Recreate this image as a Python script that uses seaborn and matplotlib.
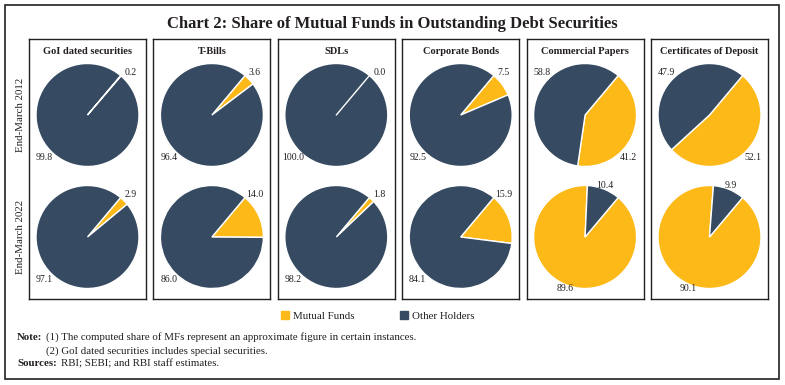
import numpy as np
import matplotlib
matplotlib.use("Agg")
import matplotlib.pyplot as plt
import matplotlib.patches as mpatches
import seaborn as sns

# ---------------- data ----------------
categories = ["GoI dated securities", "T-Bills", "SDLs", "Corporate Bonds",
              "Commercial Papers", "Certificates of Deposit"]
periods = ["End-March 2012", "End-March 2022"]
mf_2012 = [0.2, 3.6, 0.0, 7.5, 41.2, 52.1]
other_2012 = [99.8, 96.4, 100.0, 92.5, 58.8, 47.9]
mf_2022 = [2.9, 14.0, 1.8, 15.9, 89.6, 90.1]
other_2022 = [97.1, 86.0, 98.2, 84.1, 10.4, 9.9]
series_names = ["Mutual Funds", "Other Holders"]

sns.set_theme(style="white")
plt.rcParams['font.family'] = ['Liberation Serif', 'DejaVu Serif']

MF_COL = "#fcb918"
OTH_COL = "#364a61"
INK = "#231f20"

W, H = 785, 385
fig = plt.figure(figsize=(W / 100, H / 100), dpi=100)


def fx(px):
    return px / W


def fy(py):
    return 1 - py / H


# outer frame
fig.patches.append(mpatches.Rectangle((fx(5), fy(379)), fx(774), 374 / H,
                                      transform=fig.transFigure, fill=False,
                                      edgecolor=INK, linewidth=1.2))

fig.text(fx(392), fy(24), "Chart 2: Share of Mutual Funds in Outstanding Debt Securities",
         ha="center", va="center", fontsize=12, fontweight="bold", color=INK)

box_left0, box_step, box_w = 29, 124.4, 117
box_top, box_bot = 39, 299
row_cy = [115, 237]
R = 51.5
half = 1.3 * R

rows = [(mf_2012, other_2012), (mf_2022, other_2022)]

for i, cat in enumerate(categories):
    left = box_left0 + i * box_step
    cx = left + box_w / 2
    bax = fig.add_axes([fx(left), fy(box_bot), fx(box_w), (box_bot - box_top) / H])
    bax.set_xticks([])
    bax.set_yticks([])
    bax.patch.set_alpha(0)
    for sp in bax.spines.values():
        sp.set_visible(True)
        sp.set_color(INK)
        sp.set_linewidth(1.0)
    fig.text(fx(cx), fy(51), cat, ha="center", va="center", fontsize=7.5,
             fontweight="bold", color=INK)

    for r, (mf, oth) in enumerate(rows):
        cy = row_cy[r]
        ax = fig.add_axes([fx(cx - half), fy(cy + half), fx(2 * half), 2 * half / H])
        vals = [mf[i], oth[i]]
        wedges, _ = ax.pie(vals, colors=[MF_COL, OTH_COL], startangle=50,
                           counterclock=False, radius=1.0,
                           wedgeprops=dict(edgecolor="white", linewidth=1.0))
        ax.set_xlim(-1.3, 1.3)
        ax.set_ylim(-1.3, 1.3)
        ax.set_aspect("equal")
        ax.axis("off")
        for w, v in zip(wedges, vals):
            # a zero share still shows its white border line
            if v == 0:
                t = np.deg2rad(w.theta1)
                ax.plot([0, np.cos(t)], [0, np.sin(t)], color="white", lw=1.0, zorder=5)
            # data labels: snap to the nearest diagonal, except near-vertical slices
            mid = np.deg2rad((w.theta1 + w.theta2) / 2)
            if abs(np.sin(mid)) > 0.9:
                ang, rr = mid, 1.08
            else:
                ang = np.deg2rad(45 + 90 * np.floor(np.rad2deg(mid) % 360 / 90))
                rr = 1.18
            ax.text(rr * np.cos(ang), rr * np.sin(ang), f"{v:.1f}", ha="center",
                    va="center", fontsize=7, color=INK, clip_on=False)

for r, p in enumerate(periods):
    fig.text(fx(21), fy(row_cy[r]), p, rotation=90, ha="center", va="center",
             fontsize=7.8, color=INK)

# legend
handles = [mpatches.Patch(color=MF_COL, label=series_names[0]),
           mpatches.Patch(color=OTH_COL, label=series_names[1])]
fig.legend(handles=handles, loc="center", bbox_to_anchor=(fx(378), fy(316)),
           ncol=2, frameon=False, fontsize=7.8, handlelength=0.7, handleheight=0.7,
           handletextpad=0.4, columnspacing=4.2, labelcolor=INK)

# notes
NS = 7.8
fig.text(fx(17), fy(337), "Note:", ha="left", va="center", fontsize=NS,
         fontweight="bold", color=INK)
fig.text(fx(46), fy(337), "(1) The computed share of MFs represent an approximate figure in certain instances.",
         ha="left", va="center", fontsize=NS, color=INK)
fig.text(fx(46), fy(351), "(2) GoI dated securities includes special securities.",
         ha="left", va="center", fontsize=NS, color=INK)
fig.text(fx(17), fy(364), "Sources:", ha="left", va="center", fontsize=NS,
         fontweight="bold", color=INK)
fig.text(fx(61), fy(364), "RBI; SEBI; and RBI staff estimates.", ha="left", va="center",
         fontsize=NS, color=INK)

fig.savefig("out.png", dpi=100)
